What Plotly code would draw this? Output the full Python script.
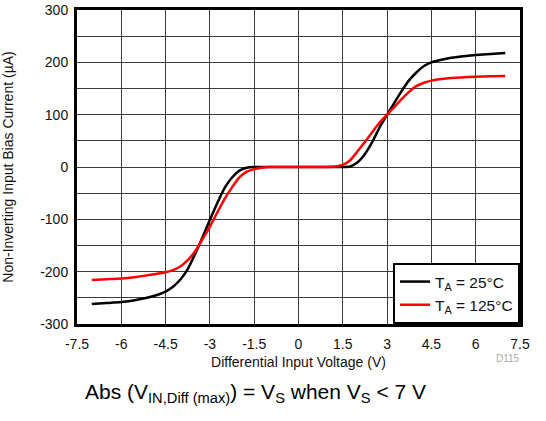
import plotly.graph_objects as go

# Differential input voltage (V)
v_25 = [-7, -6.5, -6, -5.5, -5, -4.5, -4.25, -4, -3.75, -3.5, -3.25, -3, -2.75, -2.5, -2.25,
        -2, -1.75, -1.5, -1, 0, 1, 1.5, 1.75, 2, 2.25, 2.5, 2.75, 3, 3.25, 3.5, 3.75, 4,
        4.25, 4.5, 5, 5.5, 6, 6.5, 7]
# Non-inverting input bias current (uA), TA = 25 C
i_25 = [-262, -260, -258, -254, -248, -238, -229, -215, -195, -166, -134, -101, -69, -40, -20,
        -7, -1.5, 0, 0, 0, 0, 0, 1, 9, 25, 48, 76, 100, 123, 146, 166, 181,
        193, 200, 207, 211, 214, 216, 218]

v_125 = [-7, -6.5, -6, -5.5, -5, -4.5, -4.25, -4, -3.75, -3.5, -3.25, -3, -2.75, -2.5, -2.25,
         -2, -1.75, -1.5, -1.25, -1, 0, 1, 1.25, 1.5, 1.75, 2, 2.25, 2.5, 2.75, 3, 3.25,
         3.5, 3.75, 4, 4.25, 4.5, 5, 5.5, 6, 6.5, 7]
i_125 = [-216, -214.5, -213, -210, -206, -201, -197, -190, -178, -161, -138, -114, -87, -61, -39,
         -20, -9, -4, -1.5, 0, 0, 0, 1, 4, 13, 30, 48, 67, 85, 100, 115,
         130, 144, 155, 161, 165, 169, 171, 172.5, 173.5, 174]

x_ticks = [-7.5, -6, -4.5, -3, -1.5, 0, 1.5, 3, 4.5, 6, 7.5]
x_tick_labels = ["-7.5", "-6", "-4.5", "-3", "-1.5", "0", "1.5", "3", "4.5", "6", "7.5"]
y_ticks = [-300, -200, -100, 0, 100, 200, 300]
y_tick_labels = ["-300", "-200", "-100", "0", "100", "200", "300"]

FONT = "Arial, 'Liberation Sans', sans-serif"
GRID = "#3a3a3a"

fig = go.Figure()
fig.add_trace(go.Scatter(x=v_25, y=i_25, mode="lines", name="T<sub>A</sub> = 25°C",
                         line=dict(color="#000000", width=2.5, shape="spline", smoothing=0.5)))
fig.add_trace(go.Scatter(x=v_125, y=i_125, mode="lines", name="T<sub>A</sub> = 125°C",
                         line=dict(color="#ff0000", width=2.5, shape="spline", smoothing=0.5)))

fig.update_layout(
    width=546, height=421,
    margin=dict(l=77, r=26, t=10, b=97, autoexpand=False),
    paper_bgcolor="white", plot_bgcolor="white",
    font=dict(family=FONT, size=14, color="#111111"),
    showlegend=True,
    legend=dict(x=1, y=0, xanchor="right", yanchor="bottom",
                bgcolor="white", bordercolor="black", borderwidth=2,
                font=dict(size=15.5, color="#111111"), tracegroupgap=0,
                itemwidth=30),
    xaxis=dict(range=[-7.5, 7.5], tickvals=x_ticks, ticktext=x_tick_labels,
               showgrid=True, gridcolor=GRID, gridwidth=1, automargin=False,
               showline=True, linecolor="black", linewidth=3, mirror=True,
               ticks="", zeroline=False, tickfont=dict(size=14), ticklabelstandoff=5,
               title=dict(text="Differential Input Voltage (V)", font=dict(size=14), standoff=7)),
    yaxis=dict(range=[-300, 300], tickvals=y_ticks, ticktext=y_tick_labels,
               showgrid=True, gridcolor=GRID, gridwidth=1, automargin=False,
               minor=dict(dtick=50, showgrid=True, gridcolor=GRID, gridwidth=1),
               showline=True, linecolor="black", linewidth=3, mirror=True,
               ticks="", zeroline=False, tickfont=dict(size=14), ticklabelstandoff=3,
               title=dict(text="Non-Inverting Input Bias Current (µA)", font=dict(size=14), standoff=24)),
)

fig.add_annotation(text="D115", xref="paper", yref="paper", x=1.005, y=-0.134,
                   showarrow=False, font=dict(size=10, color="#aaaaaa"))
fig.add_annotation(text="Abs (V<sub>IN,Diff (max)</sub>) = V<sub>S</sub> when V<sub>S</sub> < 7 V",
                   xref="paper", yref="paper", x=0.402, y=-0.22, yanchor="middle",
                   showarrow=False, font=dict(size=21, color="#000000"))

fig.write_html("out.html", config={"displayModeBar": False},
               post_script="document.body.style.margin='0';")
